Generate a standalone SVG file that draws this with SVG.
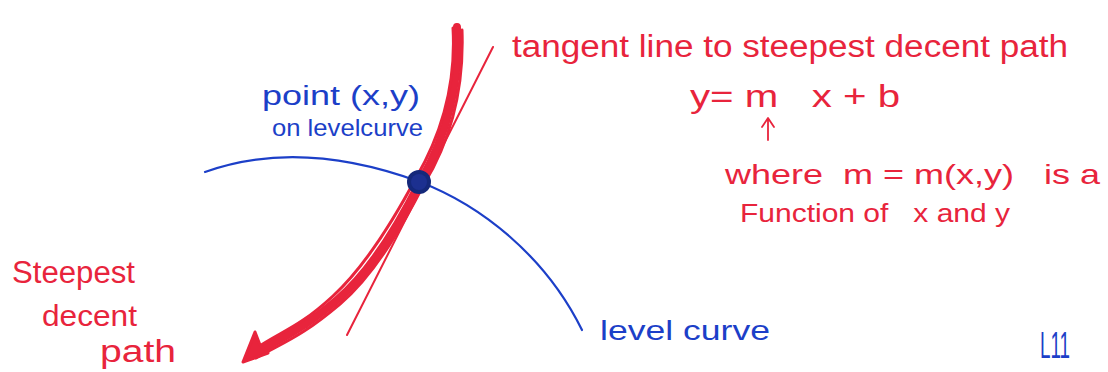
<svg xmlns="http://www.w3.org/2000/svg" width="1108" height="372" viewBox="0 0 1108 372">
<style>
.red{fill:#e8243c;font-family:"Liberation Sans","Open Sans",sans-serif}
.blue{fill:#1c3fc8;font-family:"Liberation Sans","Open Sans",sans-serif}
.rl{fill:none;stroke:#e8243c;stroke-linecap:round;stroke-linejoin:round}
.bl{fill:none;stroke:#1c3fc8;stroke-width:2.2;stroke-linecap:round}
</style>
<rect width="1108" height="372" fill="#ffffff"/>
<g id="connectors">
  <path id="level-curve" class="bl" d="M205,172 Q300,138 420,182 C480,205 545,255 582,330"/>
  <path id="tangent-line" class="rl" stroke-width="2" d="M493,47 L347,335"/>
  <g id="steepest-path">
    <path class="rl" stroke-width="8" d="M457,27 C460,80 448,135 420,182 C405,212 375,268 337,300 S285,335 252,356"/>
    <path class="rl" stroke-width="3" d="M462,30 C464,85 452,138 424,184 C408,215 378,272 340,304 S288,340 256,358"/>
    <path class="rl" stroke-width="3" d="M453,28 C456,80 444,130 416,178 C400,208 370,262 333,296 S282,330 249,353"/>
  </g>
  <path id="arrowhead" d="M243,362 L255,332 L260,345 L268,353 Z" fill="#e8243c" stroke="#e8243c" stroke-width="3" stroke-linejoin="round"/>
  <path id="m-arrow" class="rl" stroke-width="1.8" d="M768,140 L768,119 M762,127 L768,118 L774,127"/>
</g>
<g id="point">
  <circle cx="419" cy="182" r="12" fill="#14287a"/>
  <circle cx="419" cy="182" r="8" fill="#1c3090"/>
</g>
<g id="label-point">
  <text class="blue" x="262" y="105" font-size="27" textLength="158" lengthAdjust="spacingAndGlyphs">point (x,y)</text>
  <text class="blue" x="272" y="136" font-size="24" textLength="151" lengthAdjust="spacingAndGlyphs">on levelcurve</text>
</g>
<g id="label-tangent">
  <text class="red" x="512" y="57" font-size="31" textLength="556" lengthAdjust="spacingAndGlyphs">tangent line to steepest decent path</text>
</g>
<g id="label-equation">
  <text class="red" x="690" y="107" font-size="31" xml:space="preserve" textLength="210" lengthAdjust="spacingAndGlyphs">y= m   x + b</text>
</g>
<g id="label-where">
  <text class="red" x="725" y="184" font-size="28" xml:space="preserve" textLength="375" lengthAdjust="spacingAndGlyphs">where  m = m(x,y)   is a</text>
  <text class="red" x="740" y="222" font-size="26" xml:space="preserve" textLength="270" lengthAdjust="spacingAndGlyphs">Function of   x and y</text>
</g>
<g id="label-steepest">
  <text class="red" x="12" y="283" font-size="31" textLength="123" lengthAdjust="spacingAndGlyphs">Steepest</text>
  <text class="red" x="42" y="326" font-size="29" textLength="95" lengthAdjust="spacingAndGlyphs">decent</text>
  <text class="red" x="100" y="362" font-size="31" textLength="76" lengthAdjust="spacingAndGlyphs">path</text>
</g>
<g id="label-level">
  <text class="blue" x="600" y="340" font-size="27" textLength="170" lengthAdjust="spacingAndGlyphs">level curve</text>
</g>
<g id="label-page">
  <text class="blue" x="1040" y="358" font-size="36" textLength="30" lengthAdjust="spacingAndGlyphs">L11</text>
</g>
</svg>
